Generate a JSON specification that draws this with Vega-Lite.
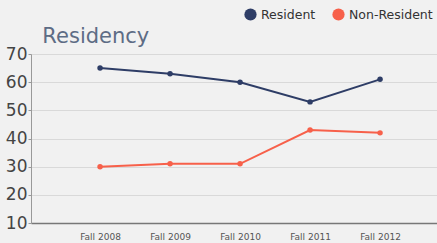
{
  "$schema": "https://vega.github.io/schema/vega-lite/v6.json",
  "autosize": "none",
  "width": 406,
  "height": 169,
  "padding": {"left": 31, "top": 54, "right": 0, "bottom": 20},
  "background": "#f1f1f1",
  "title": {"text": "Residency", "anchor": "start", "dx": 37, "offset": -39, "fontSize": 21, "font": "DejaVu Sans", "fontWeight": "normal", "color": "#5d6c85"},
  "config": {"view": {"stroke": null}, "font": "DejaVu Sans"},
  "data": {"values": [
    {"term": "Fall 2008", "group": "Resident", "value": 65},
    {"term": "Fall 2009", "group": "Resident", "value": 63},
    {"term": "Fall 2010", "group": "Resident", "value": 60},
    {"term": "Fall 2011", "group": "Resident", "value": 53},
    {"term": "Fall 2012", "group": "Resident", "value": 61},
    {"term": "Fall 2008", "group": "Non-Resident", "value": 30},
    {"term": "Fall 2009", "group": "Non-Resident", "value": 31},
    {"term": "Fall 2010", "group": "Non-Resident", "value": 31},
    {"term": "Fall 2011", "group": "Non-Resident", "value": 43},
    {"term": "Fall 2012", "group": "Non-Resident", "value": 42}
  ]},
  "mark": {"type": "line", "strokeWidth": 2, "point": {"filled": true, "size": 30}},
  "encoding": {
    "x": {"field": "term", "type": "ordinal", "title": null,
      "scale": {"type": "point", "padding": 0.9, "align": 0.548, "domain": ["Fall 2008", "Fall 2009", "Fall 2010", "Fall 2011", "Fall 2012"]},
      "axis": {"labelAngle": 0, "labelFontSize": 9, "labelColor": "#555", "ticks": false, "domainColor": "#777", "domainWidth": 1.5, "labelPadding": 9, "grid": false}},
    "y": {"field": "value", "type": "quantitative", "title": null,
      "scale": {"domain": [10, 70], "nice": false},
      "axis": {"values": [10, 20, 30, 40, 50, 60, 70], "labelFontSize": 17, "labelColor": "#444", "domainColor": "#999", "tickColor": "#999", "tickSize": 3, "labelPadding": 1, "gridColor": "#d9d9d9"}},
    "color": {"field": "group", "type": "nominal",
      "scale": {"domain": ["Resident", "Non-Resident"], "range": ["#2e3d66", "#f7604a"]},
      "legend": {"title": null, "orient": "none", "legendX": 213, "legendY": -46, "direction": "horizontal", "symbolType": "circle", "symbolSize": 150, "labelFontSize": 12.5, "labelColor": "#333", "columnPadding": 16, "symbolStrokeWidth": 0}}
  }
}
